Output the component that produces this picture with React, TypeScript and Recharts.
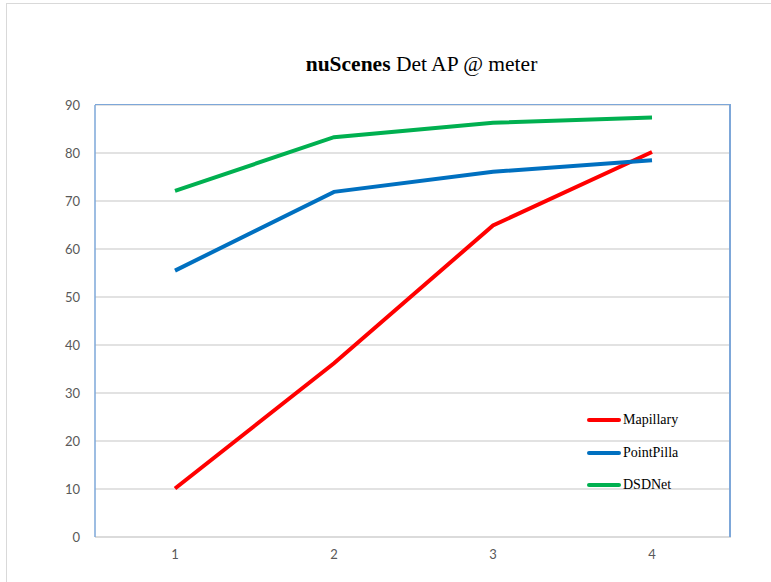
import { LineChart, Line, XAxis, YAxis, CartesianGrid } from 'recharts';

const distances = ['1', '2', '3', '4'];
const mapillary = [10.1, 36.2, 64.9, 80.2];
const pointPillars = [55.5, 71.9, 76.1, 78.5];
const dsdNet = [72.1, 83.3, 86.3, 87.4];
const yTicks = [0, 10, 20, 30, 40, 50, 60, 70, 80, 90];

const series = [
  { key: 'mapillary', name: 'Mapillary', color: '#ff0000' },
  { key: 'pointPillars', name: 'PointPilla', color: '#0070c0' },
  { key: 'dsdNet', name: 'DSDNet', color: '#00b050' },
];

const data = distances.map((d, i) => ({
  distance: d,
  mapillary: mapillary[i],
  pointPillars: pointPillars[i],
  dsdNet: dsdNet[i],
}));

const tickStyle = { fontFamily: 'Lato, "Open Sans", sans-serif', fontSize: 13, fill: '#595959' };

function LegendBox() {
  return (
    <div
      style={{
        position: 'absolute', left: 587, top: 404,
        fontFamily: '"Liberation Serif", "Times New Roman", serif', fontSize: 14, color: '#000',
      }}
    >
      {series.map(s => (
        <div key={s.key} style={{ display: 'flex', alignItems: 'center', height: 32.5 }}>
          <span style={{ display: 'inline-block', width: 34, height: 4, background: s.color, borderRadius: 2, marginRight: 2 }} />
          <span>{s.name}</span>
        </div>
      ))}
    </div>
  );
}

export default function App() {
  return (
    <div style={{ position: 'absolute', left: 0, top: 0, width: 771, height: 582, background: '#fff', overflow: 'hidden' }}>
      <div style={{ position: 'absolute', left: 6, top: 3, width: 800, height: 600, borderLeft: '1.5px solid #d9d9d9', borderTop: '1.5px solid #d9d9d9' }} />
      <div
        style={{
          position: 'absolute', left: 0, width: 843, top: 52, textAlign: 'center',
          fontFamily: '"Liberation Serif", "Times New Roman", serif', fontSize: 21.5, color: '#000',
        }}
      >
        <b>nuScenes</b> Det AP @ meter
      </div>
      <LineChart width={771} height={582} data={data} margin={{ top: 105, right: 40, left: 65, bottom: 0 }}>
        <CartesianGrid vertical={false} stroke="#d9d9d9" strokeWidth={1.5} />
        <XAxis
          dataKey="distance"
          height={45}
          padding={{ left: 80, right: 79 }}
          tickSize={0}
          tickMargin={13}
          tick={tickStyle}
          axisLine={{ stroke: '#d9d9d9', strokeWidth: 1.5 }}
        />
        <YAxis
          domain={[0, 90]}
          ticks={yTicks}
          width={30}
          tickSize={0}
          tickMargin={15}
          tick={tickStyle}
          axisLine={{ stroke: '#7da7d9', strokeWidth: 1.5 }}
        />
        {series.map(s => (
          <Line
            key={s.key}
            type="linear"
            dataKey={s.key}
            name={s.name}
            stroke={s.color}
            strokeWidth={4}
            dot={false}
            activeDot={false}
            isAnimationActive={false}
          />
        ))}
      </LineChart>
      {/* plot frame: blue top and right edges */}
      <div
        style={{
          position: 'absolute', left: 95, top: 104, width: 636, height: 433, pointerEvents: 'none',
          borderTop: '1.5px solid #7da7d9', borderRight: '2px solid #7da7d9', boxSizing: 'border-box',
        }}
      />
      <LegendBox />
    </div>
  );
}
